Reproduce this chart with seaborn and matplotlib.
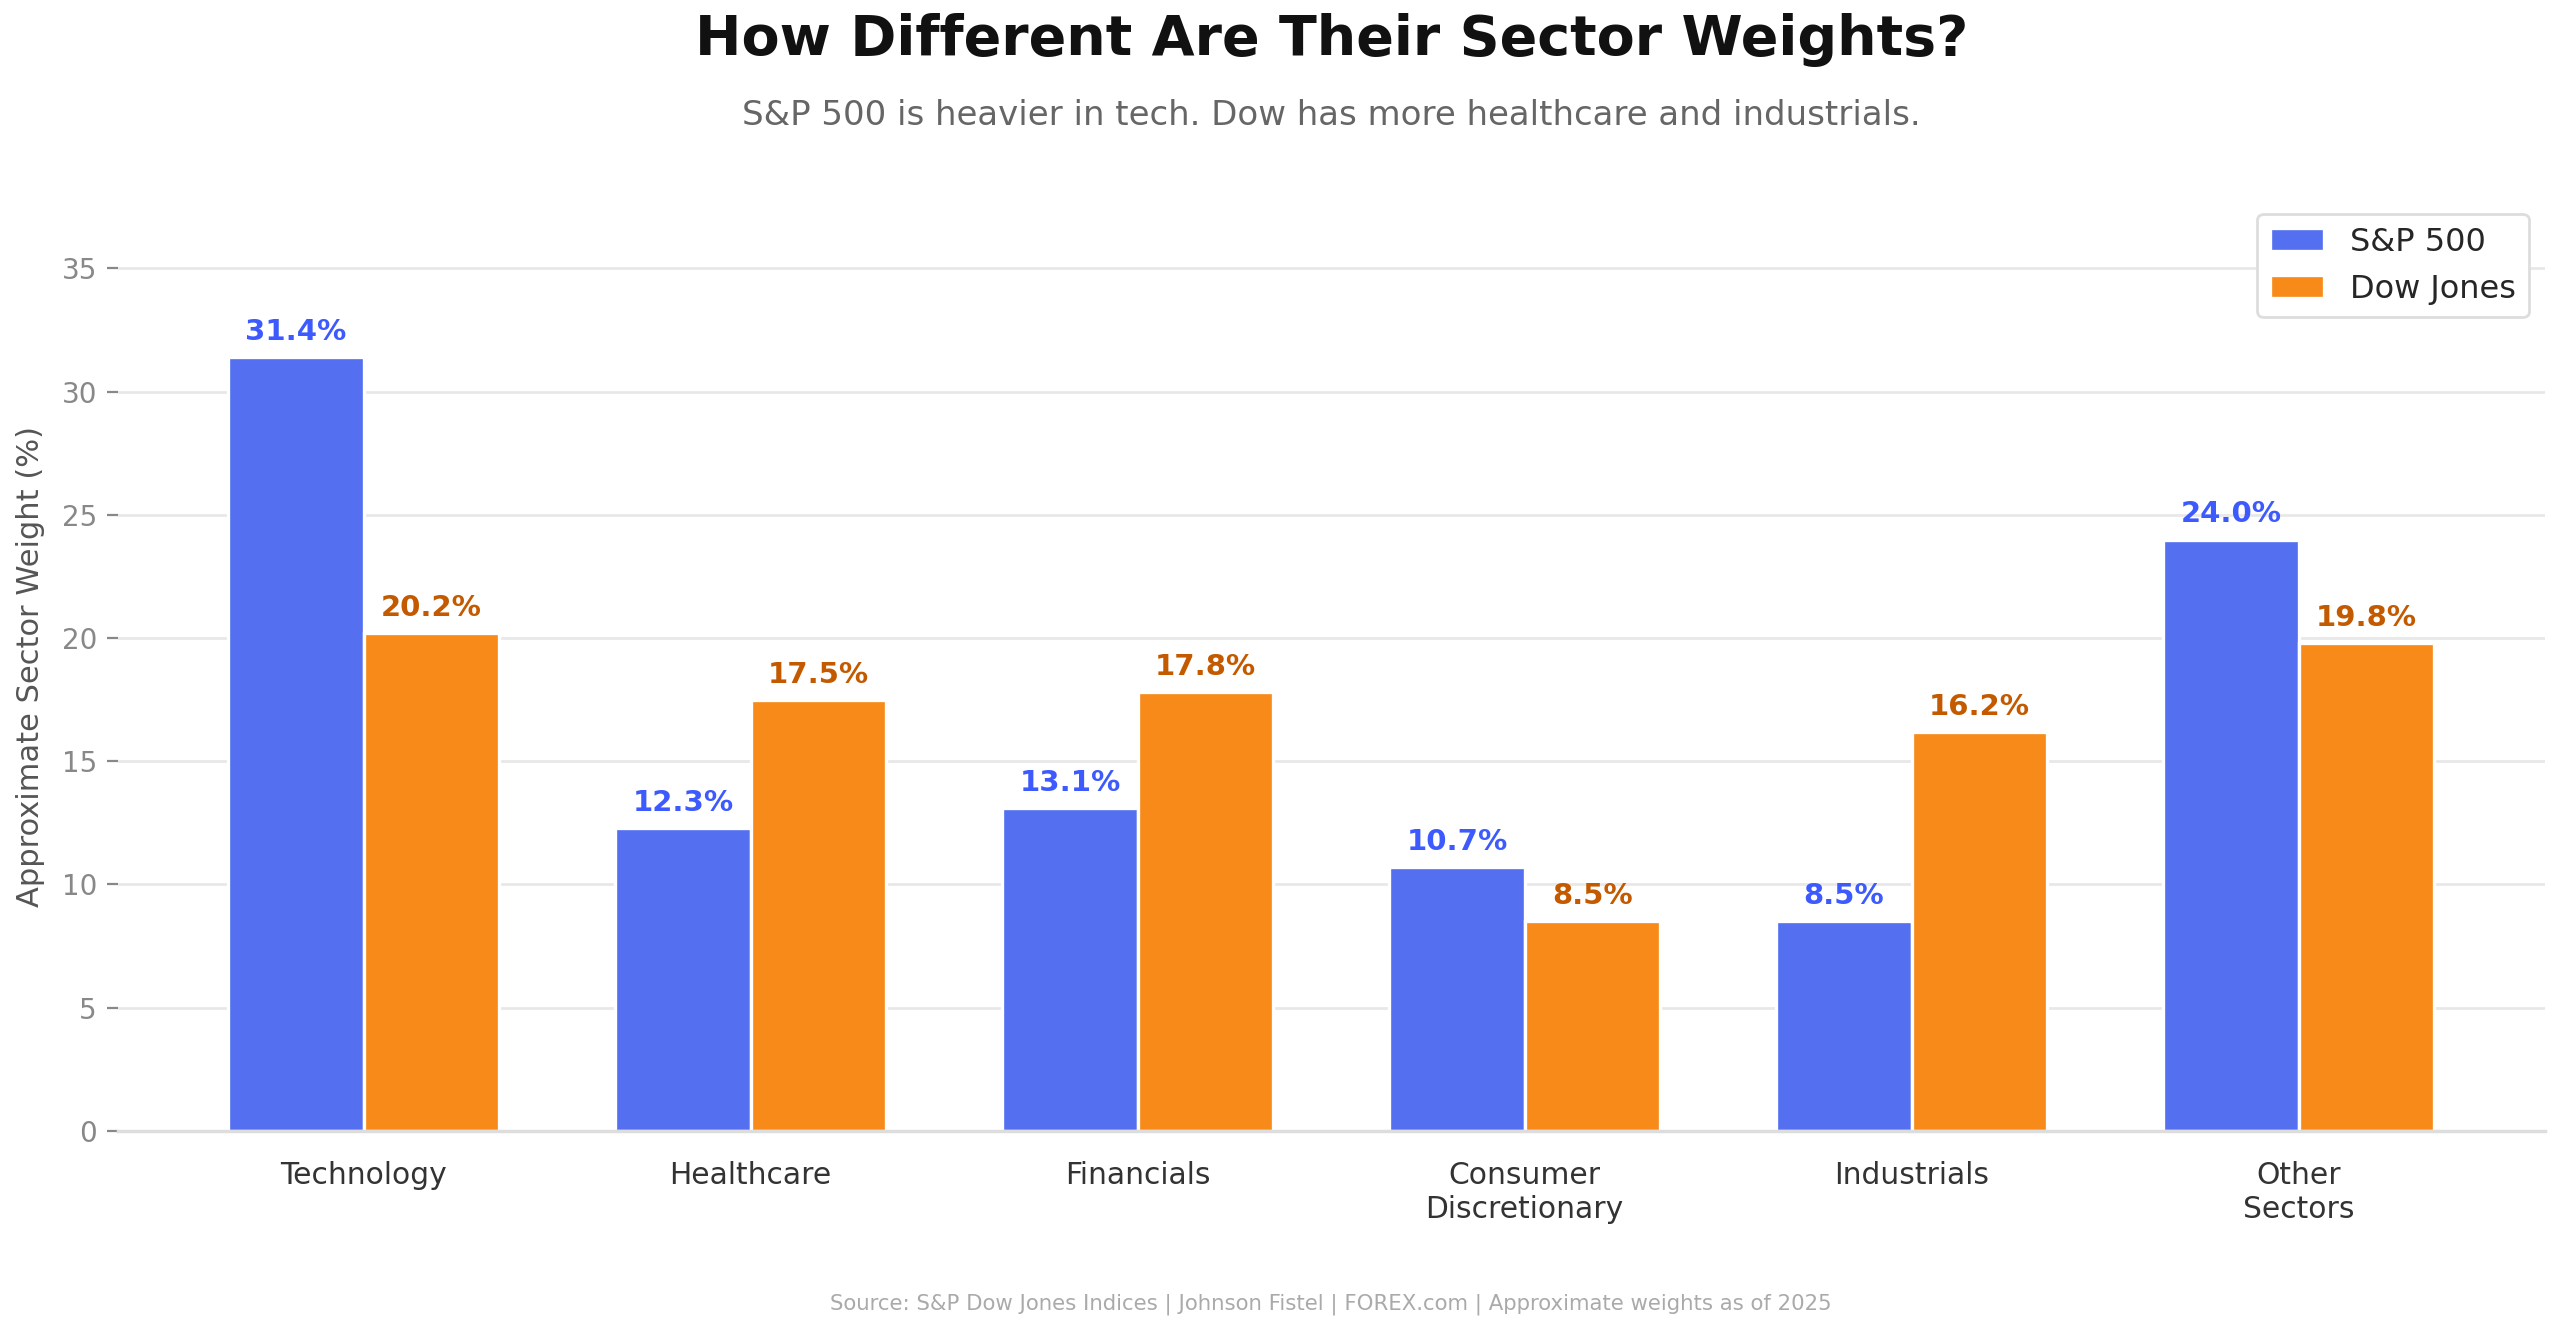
import pandas as pd
import matplotlib.pyplot as plt
import seaborn as sns

sns.set_theme(style='white')
plt.rcParams['font.family'] = ['DejaVu Sans']

# data
sectors = ['Technology', 'Healthcare', 'Financials', 'Consumer\nDiscretionary', 'Industrials', 'Other\nSectors']
sp500 = [31.4, 12.3, 13.1, 10.7, 8.5, 24.0]
dow = [20.2, 17.5, 17.8, 8.5, 16.2, 19.8]
index_names = ['S&P 500', 'Dow Jones']

bar_colors = ['#5470F0', '#F78A18']
text_colors = ['#3D5AFE', '#C45A00']

df = pd.DataFrame({
    'Sector': sectors * 2,
    'Index': [index_names[0]] * len(sectors) + [index_names[1]] * len(sectors),
    'Weight': sp500 + dow,
})

fig = plt.figure(figsize=(12.8, 6.66), dpi=200)
ax = fig.add_axes([0.046, 0.151, 0.948, 0.697])

sns.barplot(data=df, x='Sector', y='Weight', hue='Index', order=sectors,
            hue_order=index_names, palette=bar_colors, width=0.7,
            edgecolor='white', linewidth=1.2, saturation=1, ax=ax)

# value labels
for cont, col in zip(ax.containers, text_colors):
    ax.bar_label(cont, labels=[f'{v:.1f}%' for v in cont.datavalues],
                 padding=4, color=col, fontsize=10.5, fontweight='bold')

ax.set_xlim(-0.635, 5.635)
ax.set_ylim(0, max(sp500) * 1.2)
ax.set_yticks([0, 5, 10, 15, 20, 25, 30, 35])
ax.grid(axis='y', color='#E8E8E8', linewidth=1)
ax.set_axisbelow(True)
for s in ['top', 'right', 'left']:
    ax.spines[s].set_visible(False)
ax.spines['bottom'].set_color('#DDDDDD')
ax.tick_params(axis='y', colors='#888888', labelsize=10, length=4, width=0.8, left=True)
ax.tick_params(axis='x', colors='#333333', labelsize=10.7, length=0, pad=11)
ax.set_xlabel('')
ax.set_ylabel('Approximate Sector Weight (%)', fontsize=11, color='#555555', labelpad=6)

leg = ax.legend(loc='upper right', fontsize=11.5, frameon=True, edgecolor='#DDDDDD',
                framealpha=1, bbox_to_anchor=(1.0, 1.005), handlelength=1.7)
leg.set_title(None)

fig.text(0.52, 0.97, 'How Different Are Their Sector Weights?', ha='center', va='center',
         fontsize=20, fontweight='bold', color='#111111')
fig.text(0.52, 0.913, 'S&P 500 is heavier in tech. Dow has more healthcare and industrials.',
         ha='center', va='center', fontsize=12.25, color='#666666')
fig.text(0.52, 0.021, 'Source: S&P Dow Jones Indices | Johnson Fistel | FOREX.com | Approximate weights as of 2025',
         ha='center', va='center', fontsize=7.65, color='#AAAAAA')

fig.savefig('out.png', dpi=200)
